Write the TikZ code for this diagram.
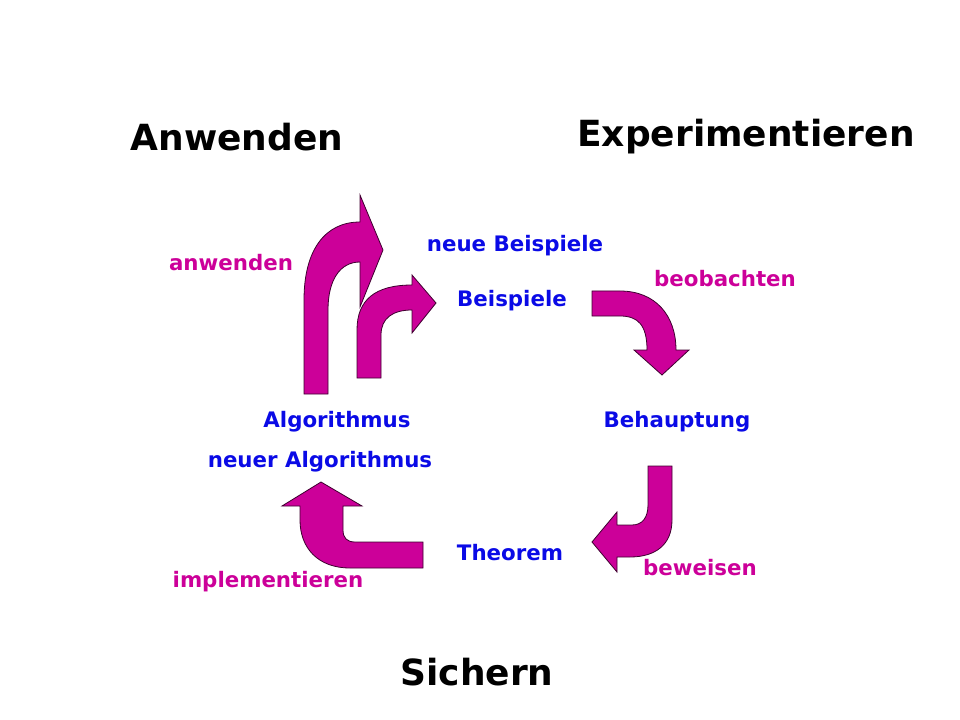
\documentclass[tikz,border=0pt]{standalone}
\usepackage{fontspec}
\setmainfont{DejaVu Sans}
\definecolor{mag}{RGB}{204,0,153}
\definecolor{blu}{RGB}{10,10,230}
\begin{document}
\begin{tikzpicture}[x=0.75pt,y=-0.75pt,
  arr/.style={fill=mag,draw=black!70!mag,line width=0.6pt,line join=miter},
  big/.style={font=\bfseries\fontsize{27}{32}\selectfont},
  lbl/.style={font=\bfseries\fontsize{16}{19}\selectfont}]
\useasboundingbox (0,0) rectangle (960,720);
\node[big] (t1) at (237,137) {Anwenden};
\node[big] (t2) at (746,137) {Experimentieren};
\node[big] (t3) at (477,672) {Sichern};
\node[lbl,mag] (l1) at (231,263) {anwenden};
\node[lbl,blu] (l2) at (515,246) {neue Beispiele};
\node[lbl,blu] (l3) at (512,301) {Beispiele};
\node[lbl,mag] (l4) at (725,279) {beobachten};
\node[lbl,blu] (l5) at (337,422) {Algorithmus};
\node[lbl,blu] (l6) at (677,422) {Behauptung};
\node[lbl,blu] (l7) at (320,462) {neuer Algorithmus};
\node[lbl,blu] (l8) at (510,553) {Theorem};
\node[lbl,mag] (l9) at (700,568) {beweisen};
\node[lbl,mag] (l10) at (268,582) {implementieren};
% big arrow
\draw[arr] (304,394) -- (304,300) .. controls (304,250) and (325,222) .. (360,222)
  -- (360,195) -- (383,250) -- (360,307) -- (360,262)
  .. controls (340,262) and (328,280) .. (328,310) -- (328,394) -- cycle;
% small arrow
\draw[arr] (357,378) -- (357,330) .. controls (357,300) and (375,285) .. (412,285)
  -- (412,275) -- (436,303) -- (412,333) -- (412,310)
  .. controls (393,310) and (381,318) .. (381,335) -- (381,378) -- cycle;
% Beispiele arrow
\draw[arr] (592,291) -- (620,291) .. controls (655,291) and (676,315) .. (676,350)
  -- (689,350) -- (662,375) -- (634,350) -- (647,350)
  .. controls (647,325) and (638,316) .. (620,316) -- (592,316) -- cycle;
% Behauptung arrow
\draw[arr] (648,466) -- (672,466) -- (672,520) .. controls (672,545) and (655,557) .. (630,557)
  -- (617,557) -- (617,572) -- (592,542) -- (617,512) -- (617,525) -- (632,525)
  .. controls (642,525) and (648,518) .. (648,505) -- cycle;
% Theorem arrow
\draw[arr] (423,542) -- (423,568) -- (350,568) .. controls (318,568) and (300,548) .. (300,520)
  -- (300,506) -- (282,506) -- (321,482) -- (362,506) -- (343,506) -- (343,530)
  .. controls (343,538) and (347,542) .. (355,542) -- cycle;
\end{tikzpicture}
\end{document}
